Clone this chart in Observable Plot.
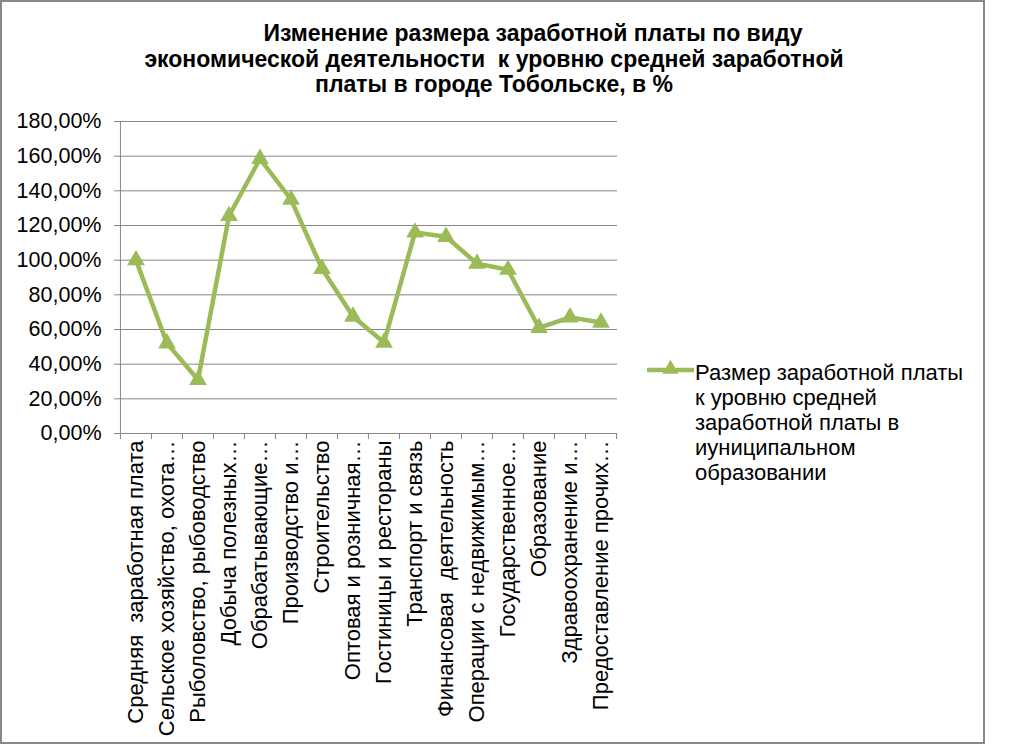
<!DOCTYPE html>
<html>
<head>
<meta charset="utf-8">
<script src="https://cdn.jsdelivr.net/npm/d3@7"></script>
<script src="https://cdn.jsdelivr.net/npm/@observablehq/plot@0.6"></script>
<style>
  html, body { margin: 0; padding: 0; background: #fff; }
  #wrap { position: relative; width: 1009px; height: 744px; overflow: hidden; background: #fff; font-family: "Liberation Sans", Arial, sans-serif; color: #000; }
  #frame { position: absolute; left: 0; top: 0; width: 981px; height: 740px; border: 2px solid #888; }
  #title { position: absolute; left: 44px; width: 900px; top: 21px; text-align: center; font-family: "Liberation Sans", Arial, sans-serif; font-weight: bold; font-size: 23px; line-height: 25.5px; white-space: pre; }
  #title .l1 { padding-left: 78px; }
  #chart { position: absolute; left: 0; top: 0; }
  #swatch { position: absolute; left: 645px; top: 357px; }
  #legend { position: absolute; left: 695px; top: 360px; font-size: 22px; line-height: 25px; white-space: nowrap; }
</style>
</head>
<body>
<div id="wrap">
  <div id="frame"></div>
  <div id="chart"></div>
  <div id="title"></div>
  <div id="swatch"></div>
  <div id="legend"></div>
</div>
<script>
const titleLines = [
  "Изменение размера заработной платы по виду",
  "экономической деятельности  к уровню средней заработной",
  "платы в городе Тобольске, в %"
];
const categories = [
  "Средняя  заработная плата",
  "Сельское хозяйство, охота…",
  "Рыболовство, рыбоводство",
  "Добыча полезных…",
  "Обрабатывающие…",
  "Производство и…",
  "Строительство",
  "Оптовая и розничная…",
  "Гостиницы и рестораны",
  "Транспорт и связь",
  "Финансовая  деятельность",
  "Операции с недвижимым…",
  "Государственное…",
  "Образование",
  "Здравоохранение и…",
  "Предоставление прочих…"
];
const values = [100, 52, 31, 125.5, 158.5, 135, 95, 67.5, 52.5, 116, 113.5, 98, 94.5, 61, 67, 64];
const yTicks = [0, 20, 40, 60, 80, 100, 120, 140, 160, 180];
const seriesName = ["Размер заработной платы", "к уровню средней", "заработной платы в", "иуниципальном", "образовании"];

const green = "#9BBB59";
const gridColor = "#868686";

const data = categories.map((c, i) => ({c, v: values[i]}));

const W = 640, H = 744, mL = 119, mR = 23, mT = 121, mB = 311;
const bw = (W - mL - mR) / categories.length;
const fmt = d => d.toFixed(2).replace(".", ",") + "%";

const chart = Plot.plot({
  width: W, height: H,
  marginLeft: mL, marginRight: mR, marginTop: mT, marginBottom: mB,
  style: {fontFamily: "'Liberation Sans', Arial, sans-serif", fontSize: "22px", color: "#000", background: "transparent", overflow: "visible"},
  x: {type: "band", domain: categories, padding: 0},
  y: {domain: [0, 180]},
  marks: [
    Plot.ruleY(yTicks, {stroke: gridColor, strokeOpacity: 1}),
    Plot.ruleX([categories[0]], {y1: 0, y2: 180, dx: -bw / 2, stroke: gridColor, strokeOpacity: 1}),
    Plot.ruleX(categories, {y1: 0, y2: 0, insetBottom: -6, dx: -bw / 2, stroke: gridColor, strokeOpacity: 1}),
    Plot.ruleX([categories[categories.length - 1]], {y1: 0, y2: 0, insetBottom: -6, dx: bw / 2, stroke: gridColor, strokeOpacity: 1}),
    Plot.axisY({ticks: yTicks, tickFormat: fmt, tickSize: 5, tickPadding: 13, stroke: gridColor, strokeOpacity: 1, label: null, fontSize: 21.5}),
    Plot.axisX({tickRotate: -90, tickSize: 0, tickPadding: 7, label: null, fontSize: 22}),
    Plot.line(data, {x: "c", y: "v", stroke: green, strokeWidth: 4.5, strokeLinejoin: "miter"}),
    Plot.dot(data, {x: "c", y: "v", symbol: "triangle", r: 6.6, fill: green, stroke: "none"})
  ]
});
document.getElementById("chart").appendChild(chart);

const t = document.getElementById("title");
titleLines.forEach((s, i) => {
  const d = document.createElement("div");
  d.textContent = s;
  if (i === 0) d.className = "l1";
  t.appendChild(d);
});

const ns = "http://www.w3.org/2000/svg";
const sw = document.createElementNS(ns, "svg");
sw.setAttribute("width", 52); sw.setAttribute("height", 26);
const ln = document.createElementNS(ns, "line");
ln.setAttribute("x1", 2); ln.setAttribute("x2", 49); ln.setAttribute("y1", 13); ln.setAttribute("y2", 13);
ln.setAttribute("stroke", green); ln.setAttribute("stroke-width", 4.5);
sw.appendChild(ln);
const tri = document.createElementNS(ns, "path");
tri.setAttribute("d", d3.symbol(d3.symbolTriangle, Math.PI * 6 * 6)());
tri.setAttribute("transform", "translate(25.5,12)");
tri.setAttribute("fill", green);
sw.appendChild(tri);
document.getElementById("swatch").appendChild(sw);

const lg = document.getElementById("legend");
seriesName.forEach(s => {
  const d = document.createElement("div");
  d.textContent = s;
  lg.appendChild(d);
});
</script>
</body>
</html>
